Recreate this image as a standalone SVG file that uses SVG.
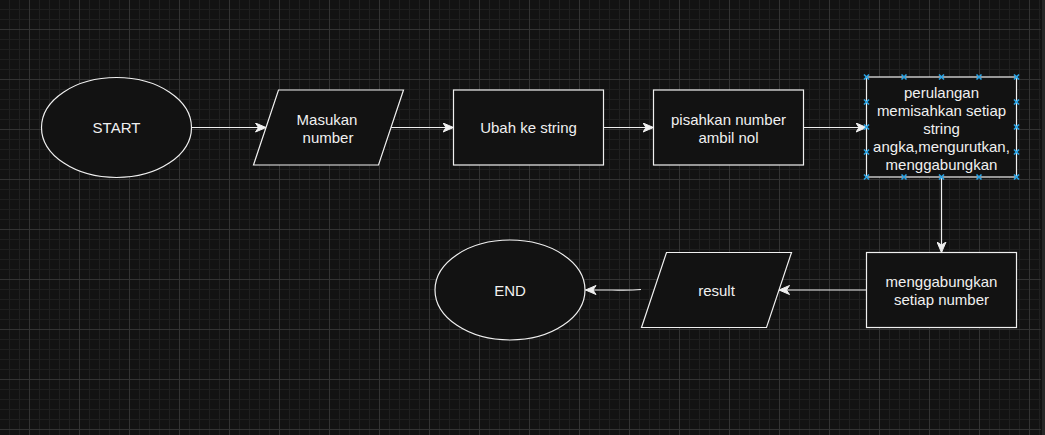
<svg xmlns="http://www.w3.org/2000/svg" width="1045" height="435" viewBox="0 0 1045 435">
<style>
.shape{fill:#121212;stroke:#f0f0f0;stroke-width:1.2}
.lbl{font-family:"Liberation Sans",Arial,sans-serif;font-size:15px;fill:#f0f0f0;text-anchor:middle}
.edge{fill:none;stroke:#f0f0f0;stroke-width:1.2}
.h{stroke:#29a4e6;stroke-width:1.6;fill:none}
</style>
<defs>
<pattern id="grid" patternUnits="userSpaceOnUse" x="9" y="9" width="50" height="50">
<path d="M0.5 0V50M10.5 0V50M30.5 0V50M40.5 0V50M0 0.5H50M0 10.5H50M0 30.5H50M0 40.5H50" stroke="#1f1f1f" stroke-width="1"/>
<path d="M20.5 0V50M0 20.5H50" stroke="#333333" stroke-width="1"/>
</pattern>
<marker id="arr" viewBox="0 0 12 10" refX="11" refY="5" markerWidth="12" markerHeight="10" markerUnits="userSpaceOnUse" orient="auto">
<path d="M11 5L0.5 0.5L3.5 5L0.5 9.5Z" fill="#f0f0f0" stroke="#f0f0f0" stroke-width="1"/>
</marker>
<g id="hx"><path class="h" d="M-2.5 -2.5L2.5 2.5M-2.5 2.5L2.5 -2.5"/></g>
</defs>
<rect width="1045" height="435" fill="#121212"/>
<rect width="1041" height="435" fill="url(#grid)"/>
<rect x="1042" y="0" width="3" height="435" fill="#262626"/>

<g id="connectors">
<line class="edge" x1="191.5" y1="127.5" x2="266" y2="127.5" marker-end="url(#arr)"/>
<line class="edge" x1="391" y1="127.5" x2="453.5" y2="127.5" marker-end="url(#arr)"/>
<line class="edge" x1="603.5" y1="127.5" x2="653.5" y2="127.5" marker-end="url(#arr)"/>
<line class="edge" x1="803.5" y1="127.5" x2="866.5" y2="127.5" marker-end="url(#arr)"/>
<line class="edge" x1="941.5" y1="177" x2="941.5" y2="252.5" marker-end="url(#arr)"/>
<line class="edge" x1="866.5" y1="290" x2="779" y2="290" marker-end="url(#arr)"/>
<path class="edge" d="M641 289.5Q630 290.5 612 290H585.5" marker-end="url(#arr)"/>
</g>

<g id="start">
<ellipse class="shape" cx="116.5" cy="127.5" rx="75" ry="50"/>
<text class="lbl" x="116.5" y="133">START</text>
</g>
<g id="masukan">
<polygon class="shape" points="278.5,90 403.5,90 378.5,165 253.5,165"/>
<text class="lbl" x="327" y="124.5">Masukan</text>
<text class="lbl" x="328" y="142.5">number</text>
</g>
<g id="ubah">
<rect class="shape" x="453.5" y="90" width="150" height="75"/>
<text class="lbl" x="528.5" y="133">Ubah ke string</text>
</g>
<g id="pisahkan">
<rect class="shape" x="653.5" y="90" width="150" height="75"/>
<text class="lbl" x="728.5" y="124.5">pisahkan number</text>
<text class="lbl" x="728.5" y="142.5">ambil nol</text>
</g>
<g id="perulangan">
<rect class="shape" x="866.5" y="77" width="150" height="100"/>
<text class="lbl" x="941.5" y="97.5">perulangan</text>
<text class="lbl" x="941.5" y="115.5">memisahkan setiap</text>
<text class="lbl" x="941.5" y="133.5">string</text>
<text class="lbl" x="941.5" y="151.5">angka,mengurutkan,</text>
<text class="lbl" x="941.5" y="169.5">menggabungkan</text>
<use href="#hx" x="866.5" y="77"/><use href="#hx" x="904" y="77"/><use href="#hx" x="941.5" y="77"/><use href="#hx" x="979" y="77"/><use href="#hx" x="1016.5" y="77"/>
<use href="#hx" x="866.5" y="102"/><use href="#hx" x="1016.5" y="102"/>
<use href="#hx" x="866.5" y="127"/><use href="#hx" x="1016.5" y="127"/>
<use href="#hx" x="866.5" y="152"/><use href="#hx" x="1016.5" y="152"/>
<use href="#hx" x="866.5" y="177"/><use href="#hx" x="904" y="177"/><use href="#hx" x="941.5" y="177"/><use href="#hx" x="979" y="177"/><use href="#hx" x="1016.5" y="177"/>
</g>
<g id="menggabungkan">
<rect class="shape" x="866.5" y="252.5" width="150" height="75"/>
<text class="lbl" x="941.5" y="286.5">menggabungkan</text>
<text class="lbl" x="941.5" y="304.5">setiap number</text>
</g>
<g id="result">
<polygon class="shape" points="666.5,252.5 791.5,252.5 766.5,327.5 641.5,327.5"/>
<text class="lbl" x="716.5" y="295.5">result</text>
</g>
<g id="end">
<ellipse class="shape" cx="510" cy="290" rx="75" ry="50"/>
<text class="lbl" x="510" y="295.5">END</text>
</g>
</svg>
